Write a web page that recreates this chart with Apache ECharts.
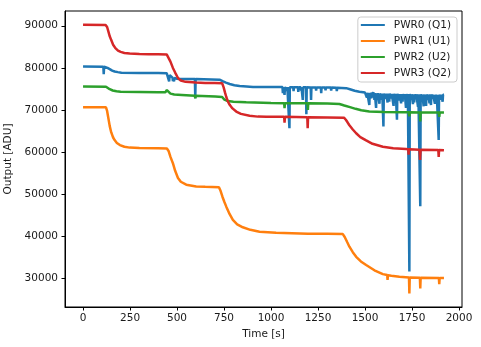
<!DOCTYPE html>
<html>
<head>
<meta charset="utf-8">
<script src="https://cdn.jsdelivr.net/npm/echarts@6/dist/echarts.min.js"></script>
<style>
html,body{margin:0;padding:0;background:#fff;}
#chart{width:481px;height:347px;}
</style>
</head>
<body>
<div id="chart"></div>
<script>
// ---- data (time [s], output [ADU]) ----
var seriesNames = ['PWR0 (Q1)', 'PWR1 (U1)', 'PWR2 (U2)', 'PWR3 (Q2)'];
var xTicks = [0, 250, 500, 750, 1000, 1250, 1500, 1750, 2000];
var yTicks = [30000, 40000, 50000, 60000, 70000, 80000, 90000];

var pwr0 = [[0,80350],[108,80300],[110,78500],[112,80300],[122,80300],[130,80000],[142,79700],[155,79350],[168,79150],[185,79000],[204,78850],[300,78800],[400,78780],[445,78750],[455,78500],[458,76800],[461,78300],[470,77950],[476,77700],[478,76900],[480,77700],[484,76800],[486,77600],[500,77450],[514,77400],[595,77350],[597,72800],[599,77350],[726,77200],[745,76800],[760,76500],[780,76200],[805,75900],[833,75700],[870,75600],[904,75500],[1000,75450],[1061,75450],[1063,74000],[1065,75450],[1070,75450],[1072,73600],[1074,75450],[1083,75450],[1085,74600],[1087,75450],[1096,75420],[1098,65700],[1100,75420],[1118,75420],[1120,74500],[1122,75420],[1143,75400],[1145,74300],[1147,75400],[1158,75400],[1160,74600],[1162,75400],[1167,75400],[1169,72400],[1171,75400],[1186,75400],[1188,69000],[1190,75400],[1211,75380],[1213,72400],[1215,75380],[1238,75380],[1240,74600],[1242,75380],[1265,75350],[1267,74000],[1269,75350],[1288,75350],[1290,74700],[1292,75350],[1318,75330],[1320,74600],[1322,75330],[1348,75300],[1350,74500],[1352,75300],[1400,75200],[1420,74950],[1445,74600],[1470,74350],[1500,74150],[1508,74100],[1510,73000],[1512,74100],[1521,74050],[1523,71200],[1525,74050],[1533,74050],[1535,72800],[1537,74050],[1548,74000],[1550,72400],[1552,74000],[1557,74000],[1559,70500],[1561,74000],[1564,74000],[1566,73000],[1568,74000],[1575,73950],[1577,71500],[1579,73950],[1588,73950],[1590,72500],[1592,73950],[1596,73900],[1598,66100],[1600,73900],[1610,73900],[1612,72700],[1614,73900],[1618,73900],[1620,71800],[1622,73900],[1627,73900],[1629,72000],[1631,73900],[1638,73850],[1640,72800],[1642,73850],[1650,73850],[1652,71000],[1654,73850],[1660,73850],[1662,72400],[1664,73850],[1668,73850],[1670,67700],[1672,73850],[1681,73800],[1683,72300],[1685,73800],[1690,73800],[1692,71600],[1694,73800],[1698,73800],[1700,72000],[1702,73800],[1708,73800],[1710,72800],[1712,73800],[1716,73800],[1718,70500],[1720,73800],[1724,73800],[1726,72200],[1728,73800],[1734,73800],[1736,31700],[1738,73800],[1744,73750],[1746,72500],[1748,73750],[1753,73750],[1755,71400],[1757,73750],[1760,73750],[1762,71800],[1764,73750],[1769,73750],[1771,72600],[1773,73750],[1780,73750],[1782,70800],[1784,73750],[1792,73750],[1794,47200],[1796,73750],[1801,73700],[1803,72300],[1805,73700],[1810,73700],[1812,70900],[1814,73700],[1823,73700],[1825,71000],[1827,73700],[1834,73700],[1836,72400],[1838,73700],[1841,73700],[1843,71600],[1845,73700],[1849,73700],[1851,71200],[1853,73700],[1858,73650],[1860,72700],[1862,73650],[1870,73650],[1872,71500],[1874,73650],[1878,73650],[1880,72300],[1882,73650],[1890,73650],[1892,62900],[1894,73650],[1902,73650],[1904,72500],[1906,73650],[1911,73650],[1913,72000],[1915,73650],[1920,73650]];

var pwr1 = [[0,70700],[122,70650],[128,69800],[135,68000],[142,66200],[150,64700],[160,63500],[168,62900],[180,62200],[196,61700],[220,61300],[248,61100],[300,61000],[400,60950],[446,60900],[455,60300],[465,58900],[478,57400],[490,55600],[505,53900],[520,53000],[549,52300],[602,51900],[650,51800],[723,51700],[732,50800],[742,49400],[752,48200],[762,47100],[780,45300],[797,43950],[820,42900],[850,42200],[890,41600],[939,41150],[1027,40900],[1196,40700],[1300,40700],[1382,40600],[1392,39900],[1405,38700],[1417,37600],[1435,36300],[1453,35200],[1478,34100],[1506,33250],[1550,32000],[1595,31100],[1618,30900],[1620,29700],[1622,30850],[1640,30700],[1683,30450],[1734,30300],[1736,26500],[1738,30300],[1792,30250],[1794,27700],[1796,30250],[1893,30200],[1895,28700],[1897,30200],[1920,30200]];

var pwr2 = [[0,75600],[122,75550],[130,75300],[142,74950],[158,74650],[178,74450],[200,74350],[300,74300],[400,74250],[438,74250],[446,74750],[452,74300],[465,73900],[485,73700],[526,73600],[595,73400],[597,72800],[599,73400],[703,73200],[740,73100],[752,72500],[770,72150],[800,72000],[868,71850],[1000,71700],[1070,71650],[1072,70450],[1074,71650],[1194,71600],[1196,70050],[1198,71600],[1300,71550],[1364,71450],[1390,71100],[1420,70700],[1450,70300],[1480,69950],[1523,69650],[1600,69550],[1700,69500],[1734,69500],[1736,68500],[1738,69500],[1792,69450],[1794,67300],[1796,69450],[1893,69400],[1895,68400],[1897,69400],[1920,69400]];

var pwr3 = [[0,90250],[120,90200],[128,89700],[135,88600],[142,87500],[150,86600],[160,85500],[172,84700],[186,84100],[200,83800],[220,83550],[248,83400],[300,83300],[350,83250],[400,83250],[445,83200],[455,82800],[465,81500],[478,80000],[490,78900],[505,77600],[520,77000],[545,76700],[600,76550],[650,76450],[700,76400],[740,76350],[748,75400],[755,74200],[762,73100],[770,72100],[780,71250],[795,70400],[815,69650],[840,69100],[886,68650],[930,68450],[975,68400],[1070,68400],[1072,67000],[1074,68400],[1193,68300],[1195,65700],[1197,68300],[1300,68250],[1388,68200],[1398,67700],[1407,67100],[1417,66400],[1435,65400],[1453,64500],[1475,63600],[1506,62800],[1540,62000],[1595,61300],[1650,60950],[1718,60750],[1730,60700],[1732,59400],[1734,60700],[1790,60600],[1793,58200],[1796,60600],[1890,60550],[1892,58900],[1894,60550],[1920,60500]];

var colors = ['#1f77b4', '#ff7f0e', '#2ca02c', '#d62728'];
var allData = [pwr0, pwr1, pwr2, pwr3];

var font = 'DejaVu Sans';
var txt = '#1a1a1a';

var chart = echarts.init(document.getElementById('chart'), null, {renderer: 'canvas'});
chart.setOption({
  animation: false,
  backgroundColor: '#fff',
  color: colors,
  grid: {left: 65, right: 19, top: 11, bottom: 40, containLabel: false, outerBoundsMode: 'none', show: true, borderColor: '#000', borderWidth: 1, backgroundColor: 'transparent'},
  legend: {
    data: seriesNames,
    orient: 'vertical',
    right: 24, top: 17,
    icon: 'rect', itemWidth: 24, itemHeight: 2, itemGap: 4,
    padding: [2, 6, 3, 3],
    backgroundColor: 'rgba(255,255,255,0.85)',
    borderColor: '#cccccc', borderWidth: 1, borderRadius: 3,
    textStyle: {fontFamily: font, fontSize: 10.5, color: txt, lineHeight: 12, padding: [0, 0, 0, 4]}
  },
  xAxis: {
    type: 'value', min: -96, max: 2016,
    name: 'Time [s]', nameLocation: 'middle', nameGap: 20,
    nameTextStyle: {fontFamily: font, fontSize: 10.5, color: txt},
    axisLine: {show: true, onZero: false, lineStyle: {color: '#000', width: 1}},
    axisTick: {show: true, length: 3.5, customValues: xTicks, lineStyle: {color: '#000'}},
    axisLabel: {customValues: xTicks, margin: 6, fontFamily: font, fontSize: 10.5, color: txt, formatter: function (v) { return String(v); }},
    splitLine: {show: false}
  },
  yAxis: {
    type: 'value', min: 23300, max: 93500,
    name: 'Output [ADU]', nameLocation: 'middle', nameGap: 41, nameRotate: 90,
    nameTextStyle: {fontFamily: font, fontSize: 10.5, color: txt},
    axisLine: {show: true, onZero: false, lineStyle: {color: '#000', width: 1}},
    axisTick: {show: true, length: 3.5, customValues: yTicks, lineStyle: {color: '#000'}},
    axisLabel: {customValues: yTicks, margin: 7, fontFamily: font, fontSize: 10.5, color: txt, formatter: function (v) { return String(v); }},
    splitLine: {show: false}
  },
  series: seriesNames.map(function (n, i) {
    return {
      name: n, type: 'line', data: allData[i],
      showSymbol: false, symbol: 'none',
      lineStyle: {width: 2.5, color: colors[i]},
      itemStyle: {color: colors[i]},
      clip: true, z: 2 + i
    };
  })
});
</script>
</body>
</html>
